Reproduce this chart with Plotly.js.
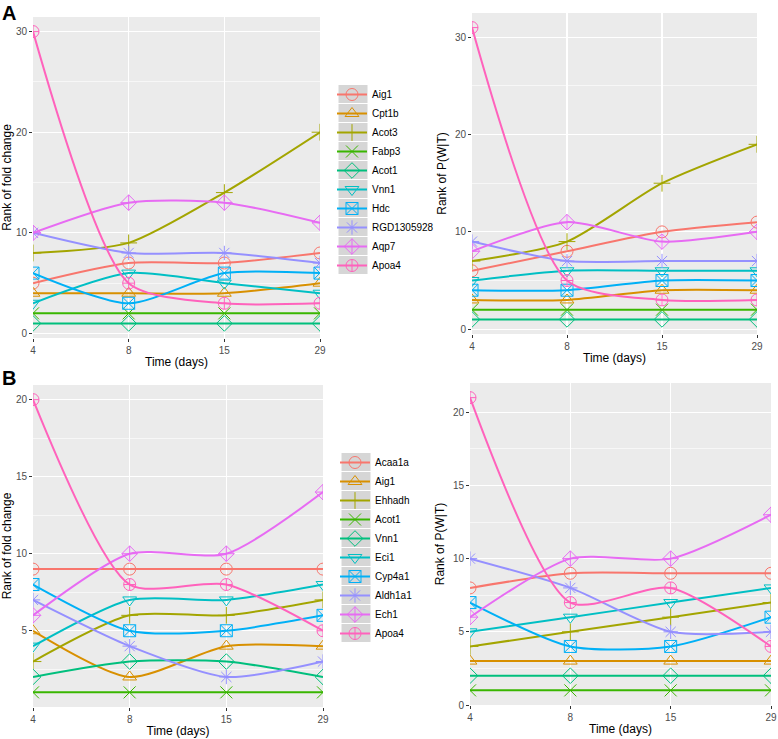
<!DOCTYPE html>
<html>
<head>
<meta charset="utf-8">
<script src="https://cdn.plot.ly/plotly-3.0.1.min.js"></script>
<style>html,body{margin:0;padding:0;background:#fff;}#chart{width:778px;height:739px;}</style>
</head>
<body>
<div id="chart"></div>
<script>
// ---------- data ----------
const timeDays = ['4', '8', '15', '29'];

const genesA = ['Aig1', 'Cpt1b', 'Acot3', 'Fabp3', 'Acot1', 'Vnn1', 'Hdc', 'RGD1305928', 'Aqp7', 'Apoa4'];
const foldRankA = [
  [5, 7, 7, 8],
  [4, 4, 4, 5],
  [8, 9, 14, 20],
  [2, 2, 2, 2],
  [1, 1, 1, 1],
  [3, 6, 5, 4],
  [6, 3, 6, 6],
  [10, 8, 8, 7],
  [10, 13, 13, 11],
  [30, 5, 3, 3]
];
const pwtRankA = [
  [6, 8, 10, 11],
  [3, 3, 4, 4],
  [7, 9, 15, 19],
  [2, 2, 2, 2],
  [1, 1, 1, 1],
  [5, 6, 6, 6],
  [4, 4, 5, 5],
  [9, 7, 7, 7],
  [8, 11, 9, 10],
  [31, 5, 3, 3]
];

const genesB = ['Acaa1a', 'Aig1', 'Ehhadh', 'Acot1', 'Vnn1', 'Eci1', 'Cyp4a1', 'Aldh1a1', 'Ech1', 'Apoa4'];
const foldRankB = [
  [9, 9, 9, 9],
  [5, 2, 4, 4],
  [3, 6, 6, 7],
  [1, 1, 1, 1],
  [2, 3, 3, 2],
  [4, 7, 7, 8],
  [8, 5, 5, 6],
  [7, 4, 2, 3],
  [6, 10, 10, 14],
  [20, 8, 8, 5]
];
const pwtRankB = [
  [8, 9, 9, 9],
  [3, 3, 3, 3],
  [4, 5, 6, 7],
  [1, 1, 1, 1],
  [2, 2, 2, 2],
  [5, 6, 7, 8],
  [7, 4, 4, 6],
  [10, 8, 5, 5],
  [6, 10, 10, 13],
  [21, 7, 8, 4]
];

// ---------- styles ----------
const hue = ['#F8766D', '#D89000', '#A3A500', '#39B600', '#00BF7D', '#00BFC4', '#00B0F6', '#9590FF', '#E76BF3', '#FF62BC'];
const symbols = ['circle-open', 'triangle-up-open', 'cross-thin-open', 'x-thin-open', 'diamond-open',
  'triangle-down-open', 'square-x-open', 'asterisk-open', 'diamond-cross-open', 'circle-cross-open'];

const traces = [];
function addPanel(names, values, xa, ya, legendId, showLeg) {
  names.forEach((n, i) => {
    traces.push({
      type: 'scatter', mode: 'lines+markers',
      x: timeDays, y: values[i], name: n,
      xaxis: xa, yaxis: ya,
      legend: legendId, showlegend: showLeg,
      line: {color: hue[i], width: 2, shape: 'spline', smoothing: 0.7},
      marker: {symbol: symbols[i], size: 12, color: hue[i], line: {color: hue[i], width: 1}},
      cliponaxis: true
    });
  });
}
addPanel(genesA, foldRankA, 'x', 'y', 'legend', true);
addPanel(genesA, pwtRankA, 'x2', 'y2', 'legend', false);
addPanel(genesB, foldRankB, 'x3', 'y3', 'legend2', true);
addPanel(genesB, pwtRankB, 'x4', 'y4', 'legend2', false);

const W = 778, H = 739;
const FONT = 'Liberation Sans, Arial, sans-serif';
const tickFont = {family: FONT, size: 10, color: '#4D4D4D'};
const titleFont = {family: FONT, size: 12, color: '#000'};

function xAxis(l, r, anchor) {
  return {
    domain: [l / W, r / W], anchor: anchor, type: 'category', range: [0, 3],
    showgrid: true, gridcolor: '#FFFFFF', gridwidth: 1.2, zeroline: false, showline: false,
    ticks: 'outside', ticklen: 3, tickcolor: '#333333', tickwidth: 1,
    tickfont: tickFont, title: {text: 'Time (days)', font: titleFont, standoff: 2},
    fixedrange: true
  };
}
function yAxis(top, bottom, anchor, range, dtick, title) {
  return {
    domain: [1 - bottom / H, 1 - top / H], anchor: anchor, range: range,
    tick0: 0, dtick: dtick,
    showgrid: true, gridcolor: '#FFFFFF', gridwidth: 1.2, zeroline: false, showline: false,
    ticks: 'outside', ticklen: 3, tickcolor: '#333333', tickwidth: 1,
    tickfont: tickFont, title: {text: title, font: titleFont, standoff: 5},
    minor: {dtick: dtick / 2, tick0: 0, showgrid: true, gridcolor: '#FFFFFF', gridwidth: 0.6, ticks: ''},
    fixedrange: true
  };
}

// grey legend-key backgrounds (ggplot style), aligned with Plotly legend rows
const keyShapes = [];
function addKeys(n, firstCenterPx, stepPx, x0Px, x1Px) {
  for (let k = 0; k < n; k++) {
    const c = firstCenterPx + k * stepPx;
    keyShapes.push({
      type: 'rect', xref: 'paper', yref: 'paper', layer: 'below',
      x0: x0Px / W, x1: x1Px / W,
      y0: 1 - (c + stepPx / 2) / H, y1: 1 - (c - stepPx / 2) / H,
      fillcolor: '#D6D6D6', line: {color: '#FFFFFF', width: 1}
    });
  }
}
addKeys(genesA.length, 94, 19, 338, 368);
addKeys(genesB.length, 462, 19, 341, 371);

const layout = {
  width: W, height: H,
  margin: {l: 0, r: 0, t: 0, b: 0},
  paper_bgcolor: '#FFFFFF', plot_bgcolor: '#EBEBEB',
  font: {family: FONT},
  xaxis: xAxis(33, 320, 'y'),
  yaxis: yAxis(17, 338, 'x', [-0.45, 31.45], 10, 'Rank of fold change'),
  xaxis2: xAxis(472, 757, 'y2'),
  yaxis2: yAxis(13, 334, 'x2', [-0.5, 32.5], 10, 'Rank of P(W|T)'),
  xaxis3: xAxis(33, 323, 'y3'),
  yaxis3: yAxis(385, 707, 'x3', [0.05, 20.95], 5, 'Rank of fold change'),
  xaxis4: xAxis(470, 771, 'y4'),
  yaxis4: yAxis(383, 705, 'x4', [0, 22], 5, 'Rank of P(W|T)'),
  legend: {
    x: 332 / W, xanchor: 'left', y: 1 - 180 / H, yanchor: 'middle',
    bgcolor: 'rgba(0,0,0,0)', borderwidth: 0, tracegroupgap: 0,
    font: {family: FONT, size: 10, color: '#000'}
  },
  legend2: {
    x: 335 / W, xanchor: 'left', y: 1 - 548 / H, yanchor: 'middle',
    bgcolor: 'rgba(0,0,0,0)', borderwidth: 0, tracegroupgap: 0,
    font: {family: FONT, size: 10, color: '#000'}
  },
  shapes: keyShapes,
  annotations: [
    {text: '<b>A</b>', x: 0, y: 1, xref: 'paper', yref: 'paper', xanchor: 'left', yanchor: 'top',
      showarrow: false, font: {family: FONT, size: 20, color: '#000'}},
    {text: '<b>B</b>', x: 0, y: 1 - 365 / H, xref: 'paper', yref: 'paper', xanchor: 'left', yanchor: 'top',
      showarrow: false, font: {family: FONT, size: 20, color: '#000'}}
  ],
  showlegend: true
};

Plotly.newPlot('chart', traces, layout, {displayModeBar: false, staticPlot: true});
</script>
</body>
</html>
